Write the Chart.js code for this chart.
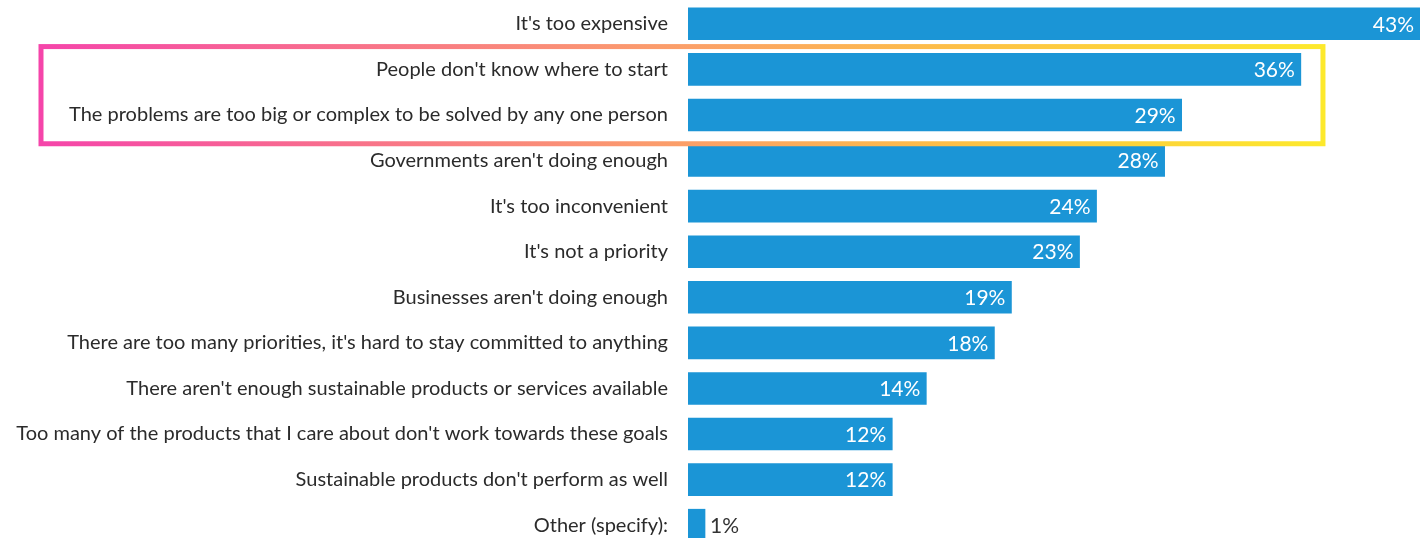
<!DOCTYPE html>
<html>
<head>
<meta charset="utf-8">
<script src="https://cdn.jsdelivr.net/npm/chart.js@4"></script>
<style>
  html, body { margin: 0; padding: 0; background: #fff; overflow: hidden; }
  #wrap { width: 1422px; height: 550px; position: relative; }
</style>
</head>
<body>
<div id="wrap"><canvas id="chart"></canvas></div>
<script>
const labels = [
  "It's too expensive",
  "People don't know where to start",
  "The problems are too big or complex to be solved by any one person",
  "Governments aren't doing enough",
  "It's too inconvenient",
  "It's not a priority",
  "Businesses aren't doing enough",
  "There are too many priorities, it's hard to stay committed to anything",
  "There aren't enough sustainable products or services available",
  "Too many of the products that I care about don't work towards these goals",
  "Sustainable products don't perform as well",
  "Other (specify):",
];
const values = [43, 36, 29, 28, 24, 23, 19, 18, 14, 12, 12, 1];
// highlighted rows (first and last index) and right edge of the box in %
const highlightRows = [1, 2];
const highlightRight = 37.3;

const FONT = "'Source Sans Pro', Lato, 'Open Sans', sans-serif";

const valueLabels = {
  id: "valueLabels",
  afterDatasetsDraw(chart) {
    const ctx = chart.ctx;
    const meta = chart.getDatasetMeta(0);
    ctx.save();
    ctx.font = "21px " + FONT;
    ctx.textBaseline = "middle";
    meta.data.forEach((bar, i) => {
      const txt = values[i] + "%";
      if (values[i] < 5) {
        ctx.fillStyle = "#333";
        ctx.textAlign = "left";
        ctx.fillText(txt, bar.x + 5, bar.y + 1);
      } else {
        ctx.fillStyle = "#fff";
        ctx.textAlign = "right";
        ctx.fillText(txt, bar.x - 6, bar.y + 1);
      }
    });
    ctx.restore();
  },
};

const highlightBox = {
  id: "highlightBox",
  afterDraw(chart) {
    const ctx = chart.ctx;
    const y = chart.scales.y;
    const x = chart.scales.x;
    const step = y.getPixelForValue(1) - y.getPixelForValue(0);
    const top = y.getPixelForValue(highlightRows[0]) - step / 2;
    const bottom = y.getPixelForValue(highlightRows[1]) + step / 2 + 6;
    const left = 41;
    const right = x.getPixelForValue(highlightRight);
    const grad = ctx.createLinearGradient(left, 0, right, 0);
    grad.addColorStop(0, "#f545aa");
    grad.addColorStop(0.48, "#fb9c6c");
    grad.addColorStop(0.72, "#fdc045");
    grad.addColorStop(1, "#fde92c");
    ctx.save();
    ctx.strokeStyle = grad;
    ctx.lineWidth = 5;
    ctx.strokeRect(left, top, right - left, bottom - top);
    ctx.restore();
  },
};

new Chart(document.getElementById("chart"), {
  type: "bar",
  data: {
    labels: labels,
    datasets: [
      {
        data: values,
        backgroundColor: "#1b95d6",
        borderWidth: 0,
        barThickness: 32,
      },
    ],
  },
  options: {
    indexAxis: "y",
    responsive: true,
    maintainAspectRatio: false,
    animation: false,
    layout: { padding: { top: 1, bottom: 2, right: 2, left: 0 } },
    plugins: {
      legend: { display: false },
      tooltip: { enabled: false },
    },
    scales: {
      x: {
        display: false,
        min: 0,
        max: 43,
      },
      y: {
        grid: { display: false },
        border: { display: false },
        afterFit(scale) {
          scale.width = 688;
          scale.paddingTop = 0;
          scale.paddingBottom = 0;
        },
        ticks: {
          color: "#2b2b2b",
          padding: 12,
          font: { family: FONT, size: 20 },
        },
      },
    },
  },
  plugins: [valueLabels, highlightBox],
});
</script>
</body>
</html>
